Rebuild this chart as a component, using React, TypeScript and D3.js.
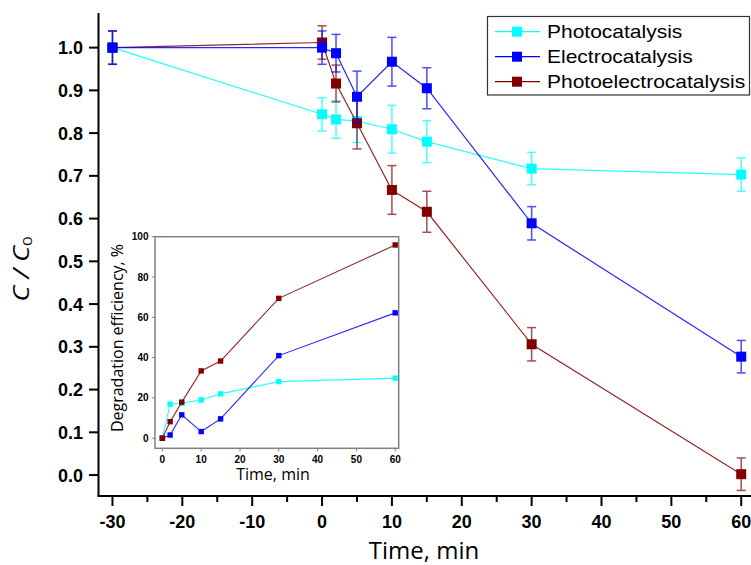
import React, { useEffect, useRef } from "react";
import * as d3 from "d3";

// main chart: C / C0 vs time
const times = [-30, 0, 2, 5, 10, 15, 30, 60];
const photo = [1.0, 0.844, 0.832, 0.828, 0.809, 0.78, 0.717, 0.703];
const photoErr = [0.039, 0.039, 0.044, 0.05, 0.056, 0.049, 0.038, 0.039];
const electro = [1.0, 1.0, 0.987, 0.885, 0.967, 0.905, 0.589, 0.277];
const electroErr = [0.039, 0.039, 0.044, 0.06, 0.057, 0.048, 0.039, 0.038];
const photoElectro = [1.0, 1.012, 0.916, 0.823, 0.667, 0.616, 0.306, 0.002];
const photoElectroErr = [0.039, 0.039, 0.043, 0.06, 0.057, 0.048, 0.039, 0.038];

const xTicks = [-30, -20, -10, 0, 10, 20, 30, 40, 50, 60];
const xMinor = [-25, -15, -5, 5, 15, 25, 35, 45, 55];
const yTicks = [0, 0.1, 0.2, 0.3, 0.4, 0.5, 0.6, 0.7, 0.8, 0.9, 1.0];

// inset: degradation efficiency
const insetTimes = [0, 2, 5, 10, 15, 30, 60];
const photoEff = [0, 16.9, 17.4, 19, 22, 28.1, 29.8];
const electroEff = [0, 1.6, 11.6, 3.3, 9.6, 41, 62.2];
const photoElectroEff = [0, 8.2, 17.9, 33.4, 38.3, 69.4, 95.9];
const insetXTicks = [0, 10, 20, 30, 40, 50, 60];
const insetYTicks = [0, 20, 40, 60, 80, 100];

const names = ["Photocatalysis", "Electrocatalysis", "Photoelectrocatalysis"];
const colors = ["#00ffff", "#0000ff", "#800000"];

export default function App() {
	const ref = useRef<SVGSVGElement>(null);

	useEffect(() => {
		const svg = d3.select(ref.current);
		svg.selectAll("*").remove();

		const x = d3.scaleLinear().domain([-32, 61.4]).range([98.5, 751]);
		const y = d3.scaleLinear().domain([-0.049, 1.081]).range([496, 13]);
		const tickFont = "'Liberation Sans', Arial, sans-serif";

		// axes
		const ax = svg.append("g");
		ax.append("line").attr("x1", 98.5).attr("x2", 98.5).attr("y1", 13).attr("y2", 496)
			.attr("stroke", "#000").attr("stroke-width", 2);
		ax.append("line").attr("x1", 97.5).attr("x2", 751).attr("y1", 496).attr("y2", 496)
			.attr("stroke", "#000").attr("stroke-width", 2);

		xTicks.forEach((t) => {
			ax.append("line").attr("x1", x(t)).attr("x2", x(t)).attr("y1", 496).attr("y2", 506)
				.attr("stroke", "#000").attr("stroke-width", 2);
			ax.append("text").attr("x", x(t)).attr("y", 528).attr("text-anchor", "middle")
				.attr("font-family", tickFont).attr("font-weight", "bold").attr("font-size", 18)
				.text(t);
		});
		xMinor.forEach((t) => {
			ax.append("line").attr("x1", x(t)).attr("x2", x(t)).attr("y1", 496).attr("y2", 502)
				.attr("stroke", "#000").attr("stroke-width", 2);
		});
		yTicks.forEach((t) => {
			ax.append("line").attr("x1", 89).attr("x2", 98.5).attr("y1", y(t)).attr("y2", y(t))
				.attr("stroke", "#000").attr("stroke-width", 2);
			ax.append("text").attr("x", 83).attr("y", y(t) + 6.5).attr("text-anchor", "end")
				.attr("font-family", tickFont).attr("font-weight", "bold").attr("font-size", 18)
				.text(t.toFixed(1));
		});

		ax.append("text").attr("x", 424).attr("y", 559).attr("text-anchor", "middle")
			.attr("font-family", "'Open Sans', sans-serif").attr("font-size", 24)
			.text("Time, min");

		const yl = ax.append("text").attr("transform", "translate(29,269) rotate(-90) scale(1.3,1)")
			.attr("text-anchor", "middle").attr("font-family", "'Open Sans', sans-serif")
			.attr("font-size", 21).attr("font-style", "italic");
		yl.append("tspan").text("C / C");
		yl.append("tspan").attr("font-size", 13).attr("dy", 3).attr("font-style", "normal").text("0");

		// series, drawn cyan, brown, blue
		const series = [
			{ v: photo, e: photoErr, c: colors[0] },
			{ v: photoElectro, e: photoElectroErr, c: colors[2] },
			{ v: electro, e: electroErr, c: colors[1] }
		];
		const line = d3.line<number>().x((d, i) => x(times[i])).y((d) => y(d));
		series.forEach((s) => {
			const g = svg.append("g");
			g.append("path").attr("d", line(s.v)).attr("fill", "none")
				.attr("stroke", s.c).attr("stroke-width", 1.2).attr("opacity", 0.85);
			s.v.forEach((v, i) => {
				const cx = x(times[i]);
				const top = y(v + s.e[i]);
				const bot = y(v - s.e[i]);
				const eb = g.append("g").attr("stroke", s.c).attr("stroke-width", 1.5).attr("opacity", 0.7);
				eb.append("line").attr("x1", cx).attr("x2", cx).attr("y1", top).attr("y2", bot);
				eb.append("line").attr("x1", cx - 4.5).attr("x2", cx + 4.5).attr("y1", top).attr("y2", top);
				eb.append("line").attr("x1", cx - 4.5).attr("x2", cx + 4.5).attr("y1", bot).attr("y2", bot);
				g.append("rect").attr("x", cx - 5).attr("y", y(v) - 5).attr("width", 10).attr("height", 10)
					.attr("fill", s.c);
			});
		});

		// legend
		const lg = svg.append("g");
		lg.append("rect").attr("x", 487.5).attr("y", 16.5).attr("width", 262).attr("height", 78.5)
			.attr("fill", "#fff").attr("stroke", "#333").attr("stroke-width", 1.2);
		names.forEach((n, i) => {
			const cy = 31.7 + i * 25;
			lg.append("line").attr("x1", 495).attr("x2", 540).attr("y1", cy).attr("y2", cy)
				.attr("stroke", colors[i]).attr("stroke-width", 1.2);
			lg.append("rect").attr("x", 512).attr("y", cy - 5).attr("width", 10).attr("height", 10)
				.attr("fill", colors[i]);
			lg.append("text").attr("transform", `translate(547,${cy + 6.2}) scale(1.2,1)`)
				.attr("font-family", tickFont).attr("font-size", 17.5).text(n);
		});

		// inset
		const ix = d3.scaleLinear().domain([-1.9, 60.9]).range([155, 398.7]);
		const iy = d3.scaleLinear().domain([-5, 100]).range([448.3, 236.7]);
		const ins = svg.append("g");
		ins.append("rect").attr("x", 155).attr("y", 236.7).attr("width", 243.7).attr("height", 211.6)
			.attr("fill", "#fff").attr("stroke", "#808080").attr("stroke-width", 1.5);
		insetXTicks.forEach((t) => {
			ins.append("line").attr("x1", ix(t)).attr("x2", ix(t)).attr("y1", 448.3).attr("y2", 451.5)
				.attr("stroke", "#808080").attr("stroke-width", 1);
			ins.append("text").attr("x", ix(t)).attr("y", 462.5).attr("text-anchor", "middle")
				.attr("font-family", tickFont).attr("font-weight", "bold").attr("font-size", 10)
				.text(t);
		});
		insetYTicks.forEach((t) => {
			ins.append("line").attr("x1", 151.8).attr("x2", 155).attr("y1", iy(t)).attr("y2", iy(t))
				.attr("stroke", "#808080").attr("stroke-width", 1);
			ins.append("text").attr("x", 148.5).attr("y", iy(t) + 3.5).attr("text-anchor", "end")
				.attr("font-family", tickFont).attr("font-weight", "bold").attr("font-size", 10)
				.text(t);
		});
		ins.append("text").attr("x", 273).attr("y", 480).attr("text-anchor", "middle")
			.attr("font-family", "'Open Sans', sans-serif").attr("font-size", 16)
			.text("Time, min");
		ins.append("text").attr("transform", "translate(123,338) rotate(-90)")
			.attr("text-anchor", "middle").attr("font-family", "'Open Sans', sans-serif")
			.attr("font-size", 16).text("Degradation efficiency, %");

		const insetSeries = [
			{ v: photoEff, c: colors[0] },
			{ v: electroEff, c: colors[1] },
			{ v: photoElectroEff, c: colors[2] }
		];
		const iline = d3.line<number>().x((d, i) => ix(insetTimes[i])).y((d) => iy(d));
		insetSeries.forEach((s) => {
			ins.append("path").attr("d", iline(s.v)).attr("fill", "none")
				.attr("stroke", s.c).attr("stroke-width", 1.1).attr("opacity", 0.85);
			s.v.forEach((v, i) => {
				ins.append("rect").attr("x", ix(insetTimes[i]) - 2.7).attr("y", iy(v) - 2.7)
					.attr("width", 5.4).attr("height", 5.4).attr("fill", s.c);
			});
		});
	}, []);

	return (
		<div>
			<svg
				ref={ref}
				width={751}
				height={565}
				style={{ position: "absolute", left: 0, top: 0, background: "#fff" }}
			></svg>
		</div>
	);
}
